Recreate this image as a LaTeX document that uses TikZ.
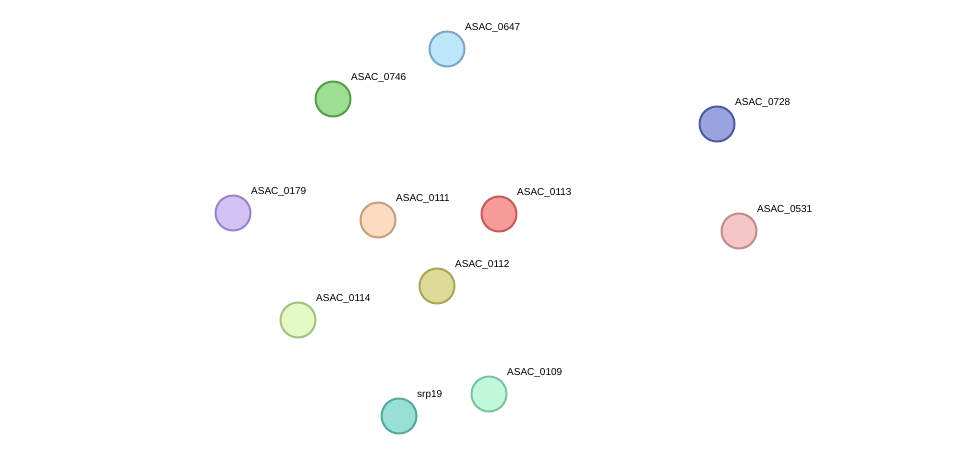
\documentclass[tikz,border=0pt]{standalone}
\usepackage{fontspec}
\setmainfont{Liberation Sans}
\usetikzlibrary{calc,backgrounds}
\definecolor{eg}{RGB}{50,190,50}
\definecolor{eb}{RGB}{40,40,230}
\definecolor{ey}{RGB}{195,208,60}
\definecolor{ep}{RGB}{110,40,140}
\definecolor{ek}{RGB}{50,50,50}
\definecolor{ec}{RGB}{40,170,220}
\definecolor{fA}{RGB}{189,230,248}\definecolor{dA}{RGB}{122,168,196}
\definecolor{fB}{RGB}{157,223,144}\definecolor{dB}{RGB}{90,154,79}
\definecolor{fC}{RGB}{154,163,224}\definecolor{dC}{RGB}{79,90,160}
\definecolor{fD}{RGB}{211,194,246}\definecolor{dD}{RGB}{155,132,199}
\definecolor{fE}{RGB}{251,220,192}\definecolor{dE}{RGB}{198,160,124}
\definecolor{fF}{RGB}{247,154,154}\definecolor{dF}{RGB}{198,90,90}
\definecolor{fG}{RGB}{246,198,198}\definecolor{dG}{RGB}{192,140,140}
\definecolor{fH}{RGB}{222,219,150}\definecolor{dH}{RGB}{169,166,90}
\definecolor{fI}{RGB}{227,250,196}\definecolor{dI}{RGB}{166,192,126}
\definecolor{fJ}{RGB}{193,248,219}\definecolor{dJ}{RGB}{124,196,159}
\definecolor{fK}{RGB}{152,224,214}\definecolor{dK}{RGB}{85,168,157}
\newcommand\edg[4]{%
  \foreach \c [count=\i] in {#4} {%
    \pgfmathsetlengthmacro\o{(\i-(#3+1)/2)*1.6pt}%
    \draw[\c,line width=0.85pt] ($(#1.center)!\o!90:(#2.center)$) -- ($(#2.center)!\o!-90:(#1.center)$);
  }}
\tikzset{
  prot/.style 2 args={circle,minimum size=35pt,inner sep=0pt,line width=2pt,fill=#1,draw=#2},
  lab/.style={font=\fontsize{10}{12}\selectfont,anchor=west,inner sep=0pt}
}
\begin{document}
\begin{tikzpicture}[x=1pt,y=-1pt]
\useasboundingbox[fill=white] (0,0) rectangle (976,462);
\node[prot={fA}{dA}] (n0647) at (447,49) {};
\node[prot={fB}{dB}] (n0746) at (333,99) {};
\node[prot={fC}{dC}] (n0728) at (717,124) {};
\node[prot={fD}{dD}] (n0179) at (233,213) {};
\node[prot={fE}{dE}] (n0111) at (378,220) {};
\node[prot={fF}{dF}] (n0113) at (499,214) {};
\node[prot={fG}{dG}] (n0531) at (739,231) {};
\node[prot={fH}{dH}] (n0112) at (437,286) {};
\node[prot={fI}{dI}] (n0114) at (298,320) {};
\node[prot={fJ}{dJ}] (n0109) at (489,394) {};
\node[prot={fK}{dK}] (nsrp) at (399,416) {};
\begin{scope}[on background layer]
\edg{n0647}{n0746}{3}{eg,ey,eg}
\edg{n0647}{n0111}{4}{eg,eb,ep,ey}
\edg{n0647}{n0112}{4}{eg,eb,ep,ey}
\edg{n0647}{n0113}{4}{eg,eb,ep,ey}
\edg{n0746}{n0179}{2}{eg,ey}
\edg{n0746}{n0113}{1}{eb}
\edg{n0746}{n0112}{3}{eg,eb,ey}
\edg{n0746}{n0109}{2}{eg,ey}
\edg{n0728}{n0113}{4}{eg,eb,ep,ey}
\edg{n0728}{n0531}{3}{eg,eb,ey}
\edg{n0179}{n0111}{3}{ek,ey,eg}
\edg{n0179}{n0113}{4}{eg,eb,ek,ey}
\edg{n0179}{n0112}{2}{eg,ey}
\edg{n0179}{n0114}{3}{eg,eb,ey}
\edg{n0111}{n0113}{2}{ec,eg}
\edg{n0111}{n0112}{4}{eg,eb,ep,ey}
\edg{n0111}{n0109}{2}{eg,ey}
\edg{n0111}{nsrp}{1}{eg}
\edg{n0113}{n0531}{4}{eg,eb,ep,ey}
\edg{n0113}{n0112}{4}{eg,eb,ep,ey}
\edg{n0113}{n0114}{1}{eg}
\edg{n0113}{n0109}{4}{eg,eb,ep,ey}
\edg{n0113}{nsrp}{1}{eg}
\edg{n0112}{n0114}{4}{eg,eb,ep,ey}
\edg{n0112}{n0109}{1}{eb}
\edg{n0112}{nsrp}{1}{eg}
\edg{n0114}{n0109}{2}{eg,ey}
\edg{n0114}{nsrp}{1}{eg}
\edg{nsrp}{n0109}{2}{eg,eb}
\end{scope}
\node[lab] (l0647) at ($(n0647.center)+(18,-21)$) {ASAC\_0647};
\node[lab] (l0746) at ($(n0746.center)+(18,-21)$) {ASAC\_0746};
\node[lab] (l0728) at ($(n0728.center)+(18,-21)$) {ASAC\_0728};
\node[lab] (l0179) at ($(n0179.center)+(18,-21)$) {ASAC\_0179};
\node[lab] (l0111) at ($(n0111.center)+(18,-21)$) {ASAC\_0111};
\node[lab] (l0113) at ($(n0113.center)+(18,-21)$) {ASAC\_0113};
\node[lab] (l0531) at ($(n0531.center)+(18,-21)$) {ASAC\_0531};
\node[lab] (l0112) at ($(n0112.center)+(18,-21)$) {ASAC\_0112};
\node[lab] (l0114) at ($(n0114.center)+(18,-21)$) {ASAC\_0114};
\node[lab] (l0109) at ($(n0109.center)+(18,-21)$) {ASAC\_0109};
\node[lab] (lsrp) at ($(nsrp.center)+(18,-21)$) {srp19};
\end{tikzpicture}
\end{document}
